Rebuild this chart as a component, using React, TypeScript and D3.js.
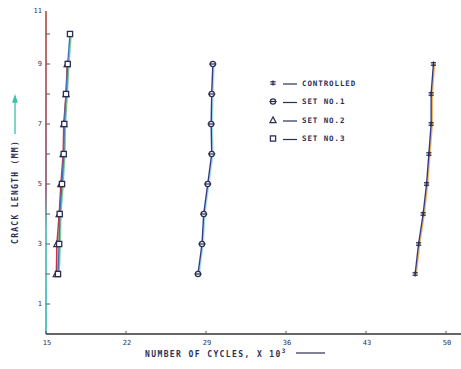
import * as d3 from "d3";

// crack length (mm) at each reading
const crackControlled = [2, 3, 4, 5, 6, 7, 8, 9];
const crackSet1 = [2, 3, 4, 5, 6, 7, 8, 9];
const crackSet2 = [2, 3, 4, 5, 6, 7, 8, 9];
const crackSet3 = [2, 3, 4, 5, 6, 7, 8, 9, 10];

// number of cycles x 10^3
const cyclesControlled = [47.3, 47.6, 48.0, 48.3, 48.5, 48.7, 48.7, 48.9];
const cyclesSet1 = [28.3, 28.65, 28.8, 29.15, 29.5, 29.45, 29.5, 29.6];
const cyclesSet2 = [15.9, 15.95, 16.15, 16.3, 16.5, 16.55, 16.75, 16.85];
const cyclesSet3 = [16.05, 16.15, 16.2, 16.4, 16.55, 16.6, 16.75, 16.9, 17.1];

const xTicks = [15, 22, 29, 36, 43, 50];
const yLabelTicks = [1, 3, 5, 7, 9, 11];
const yMinorTicks = [1, 2, 3, 4, 5, 6, 7, 8, 9, 10];

const legendLabels = ["CONTROLLED", "SET NO.1", "SET NO.2", "SET NO.3"];

type Marker = "x" | "circle" | "triangle" | "square";

const series = [
  { name: legendLabels[0], xs: cyclesControlled, ys: crackControlled, marker: "x" as Marker, color: "#363a86", fringe: "#e9a93a" },
  { name: legendLabels[1], xs: cyclesSet1, ys: crackSet1, marker: "circle" as Marker, color: "#363a86", fringe: "#86d6df" },
  { name: legendLabels[2], xs: cyclesSet2, ys: crackSet2, marker: "triangle" as Marker, color: "#c8333d", fringe: "#e9a93a" },
  { name: legendLabels[3], xs: cyclesSet3, ys: crackSet3, marker: "square" as Marker, color: "#3f72c0", fringe: "#5cbf86" },
];

const W = 461;
const H = 369;
const font = "'DejaVu Sans Mono', monospace";
const ink = "#2c3058";

const x = d3.scaleLinear().domain([15, 50]).range([46, 446]);
const y = d3.scaleLinear().domain([0, 11]).range([334, 4]);
const yTop = 10.77;

function MarkerShape({ type, cx, cy, stroke }: { type: Marker; cx: number; cy: number; stroke: string }) {
  const s = 2.6;
  if (type === "x")
    return (
      <g stroke={stroke} strokeWidth={1.3}>
        <line x1={cx - s} x2={cx + s} y1={cy - 1.2} y2={cy - 1.2} />
        <line x1={cx - s} x2={cx + s} y1={cy + 1.2} y2={cy + 1.2} />
        <line x1={cx} x2={cx} y1={cy - s} y2={cy + s} />
      </g>
    );
  if (type === "circle")
    return (
      <g stroke={stroke} strokeWidth={1.2} fill="#fff">
        <circle cx={cx} cy={cy} r={s} />
        <line x1={cx - s - 1} x2={cx + s + 1} y1={cy} y2={cy} />
      </g>
    );
  if (type === "triangle")
    return (
      <path
        d={`M${cx},${cy - s - 0.5}L${cx + s + 0.5},${cy + s}L${cx - s - 0.5},${cy + s}Z`}
        fill="#fff"
        stroke={stroke}
        strokeWidth={1.2}
      />
    );
  return <rect x={cx - s} y={cy - s} width={s * 2} height={s * 2} fill="#fff" stroke={stroke} strokeWidth={1.3} />;
}

export default function App() {
  const line = d3
    .line<[number, number]>()
    .x((d) => x(d[0]))
    .y((d) => y(d[1]));

  return (
    <svg
      width={W}
      height={H}
      style={{ position: "absolute", left: 0, top: 0, background: "#fff" }}
      fontFamily={font}
    >
      <defs>
        <linearGradient id="yaxis" gradientUnits="userSpaceOnUse" x1="0" x2="0" y1={y(yTop)} y2={y(0)}>
          <stop offset="0%" stopColor="#b04a3a" />
          <stop offset="55%" stopColor="#8a4a6a" />
          <stop offset="68%" stopColor="#3fb8b0" />
          <stop offset="100%" stopColor="#2fb3b6" />
        </linearGradient>
      </defs>

      {/* axes */}
      <line x1={x(15)} x2={x(15)} y1={y(0)} y2={y(yTop)} stroke="url(#yaxis)" strokeWidth={1.6} />
      <line x1={x(15)} x2={W} y1={y(0)} y2={y(0)} stroke="#333" strokeWidth={1.3} />

      {yMinorTicks.map((v) => (
        <line key={v} x1={x(15)} x2={x(15) + 4} y1={y(v)} y2={y(v)} stroke="#555" strokeWidth={1} />
      ))}
      {yLabelTicks.map((v) => (
        <text
          key={v}
          x={x(15) - 4}
          y={Math.max(y(v), y(yTop))}
          dy="0.35em"
          textAnchor="end"
          fontSize={7}
          fill={ink}
        >
          {v}
        </text>
      ))}

      {xTicks.map((v) => (
        <g key={v}>
          <line x1={x(v)} x2={x(v)} y1={y(0)} y2={y(0) - 3} stroke="#555" />
          <text x={x(v) + 1} y={y(0) + 10.5} textAnchor="middle" fontSize={7} fill={ink}>
            {v}
          </text>
        </g>
      ))}

      {/* axis titles */}
      <text
        transform="translate(18,192) rotate(-90)"
        textAnchor="middle"
        fontSize={8}
        fontWeight="bold"
        letterSpacing={1.3}
        fill={ink}
      >
        CRACK LENGTH (MM)
      </text>
      <g stroke="#3cc0a8" strokeWidth={1.3} fill="#3cc0a8">
        <line x1={15} x2={15} y1={134} y2={100} />
        <path d="M15,96L13,102L17,102Z" />
      </g>

      <text x={145} y={357} fontSize={8} fontWeight="bold" letterSpacing={1.4} fill={ink}>
        NUMBER OF CYCLES, X 10
        <tspan dy={-4} fontSize={6}>
          3
        </tspan>
      </text>
      <line x1={296} x2={325} y1={353} y2={353} stroke={ink} strokeWidth={1.2} />

      {/* series */}
      {series.map((s) => {
        const pts = s.xs.map((v, i) => [v, s.ys[i]] as [number, number]);
        return (
          <g key={s.name}>
            <path d={line(pts) ?? ""} transform="translate(1.2,0)" fill="none" stroke={s.fringe} strokeWidth={1.4} opacity={0.8} />
            <path d={line(pts) ?? ""} fill="none" stroke={s.color} strokeWidth={1.4} />
            {pts.map((p, i) => (
              <MarkerShape key={i} type={s.marker} cx={x(p[0])} cy={y(p[1])} stroke="#2a2d50" />
            ))}
          </g>
        );
      })}

      {/* legend */}
      {series.map((s, i) => {
        const ly = 83 + i * 18.5;
        return (
          <g key={s.name}>
            <MarkerShape type={s.marker} cx={273} cy={ly} stroke={ink} />
            <line x1={283} x2={297} y1={ly + 1} y2={ly + 1} stroke={ink} strokeWidth={1.2} />
            <text x={302} y={ly} dy="0.35em" fontSize={7.5} fontWeight="bold" letterSpacing={0.9} fill={ink}>
              {s.name}
            </text>
          </g>
        );
      })}
    </svg>
  );
}
